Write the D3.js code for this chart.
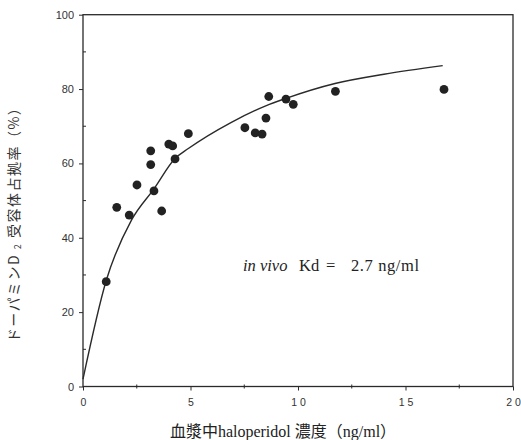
<!DOCTYPE html>
<html>
<head>
<meta charset="utf-8">
<script src="https://cdn.jsdelivr.net/npm/d3@7"></script>
<style>
  body { margin: 0; background: #fff; }
  svg { display: block; }
  text { white-space: pre; }
</style>
</head>
<body>
<div id="chart"></div>
<script>
// plasma haloperidol (ng/ml) vs D2 occupancy (%)
const pointsX = [1.08, 1.57, 2.15, 2.51, 3.15, 3.15, 3.30, 3.66, 3.99, 4.17, 4.28, 4.90,
                 7.53, 8.01, 8.33, 8.51, 8.64, 9.44, 9.78, 11.74, 16.79];
const pointsY = [28.2, 48.2, 46.1, 54.2, 63.4, 59.7, 52.6, 47.2, 65.2, 64.7, 61.2, 68.0,
                 69.6, 68.2, 67.9, 72.2, 78.0, 77.3, 75.9, 79.4, 79.9];

// fitted curve
const curveX = [0, 1.08, 2.26, 3.32, 4.28, 4.9, 6.88, 8.5, 9.44, 11.72, 14, 16.73];
const curveY = [2, 28.5, 44.8, 53.3, 61.3, 64, 71, 75.5, 77.5, 81.5, 84, 86.3];

const xTicks = [0, 5, 10, 15, 20];
const xTickLabels = ["0", "5", "1 0", "1 5", "2 0"];
const xMinor = [2.5, 7.5, 12.5, 17.5];
const yTicks = [0, 20, 40, 60, 80, 100];
const yMinor = [10, 30, 50, 70, 90];

const W = 521, H = 440;
const svg = d3.select("#chart").append("svg")
    .attr("width", W).attr("height", H);

const x = d3.scaleLinear().domain([0, 20]).range([83, 513]);
const y = d3.scaleLinear().domain([0, 100]).range([386.5, 14.7]);

const ink = "#2a2a2a";

// frame
svg.append("rect")
    .attr("x", x(0)).attr("y", y(100))
    .attr("width", x(20) - x(0)).attr("height", y(0) - y(100))
    .attr("fill", "none").attr("stroke", ink).attr("stroke-width", 1.3);

//////////////////// y axis ////////////////////
const yAxis = svg.append("g")
    .attr("transform", `translate(${x(0)},0)`)
    .call(d3.axisLeft(y).tickValues(yTicks).tickSize(4).tickPadding(5));
yAxis.select(".domain").remove();
yAxis.selectAll("line").attr("stroke", ink);
yAxis.selectAll("text")
    .attr("font-family", "Liberation Sans, Arial, sans-serif")
    .attr("font-size", 11).attr("fill", "#333");

svg.append("g").selectAll("line")
    .data(yMinor).enter().append("line")
    .attr("x1", x(0)).attr("x2", x(0) + 3)
    .attr("y1", d => y(d)).attr("y2", d => y(d))
    .attr("stroke", ink);

//////////////////// x axis ////////////////////
const xAxis = svg.append("g")
    .attr("transform", `translate(0,${y(0)})`)
    .call(d3.axisBottom(x).tickValues(xTicks).tickSize(4).tickPadding(8)
        .tickFormat((d, i) => xTickLabels[i]));
xAxis.select(".domain").remove();
xAxis.selectAll("line").attr("stroke", ink);
xAxis.selectAll("text")
    .attr("font-family", "Liberation Sans, Arial, sans-serif")
    .attr("font-size", 10.5).attr("fill", "#333");

svg.append("g").selectAll("line")
    .data(xMinor).enter().append("line")
    .attr("x1", d => x(d)).attr("x2", d => x(d))
    .attr("y1", y(0) - 2).attr("y2", y(0) + 2)
    .attr("stroke", ink);

//////////////////// curve ////////////////////
const curve = curveX.map((d, i) => [d, curveY[i]]);
svg.append("path")
    .datum(curve)
    .attr("d", d3.line().x(d => x(d[0])).y(d => y(d[1])).curve(d3.curveMonotoneX))
    .attr("fill", "none").attr("stroke", ink).attr("stroke-width", 1.4);

//////////////////// points ////////////////////
svg.append("g").selectAll("circle")
    .data(pointsX.map((d, i) => [d, pointsY[i]]))
    .enter().append("circle")
    .attr("cx", d => x(d[0])).attr("cy", d => y(d[1]))
    .attr("r", 4.4).attr("fill", "#222");

//////////////////// labels ////////////////////
const ann = svg.append("text")
    .attr("y", 271)
    .attr("font-family", "Liberation Serif, Times New Roman, serif")
    .attr("font-size", 16.5).attr("fill", "#222");
ann.append("tspan").attr("x", 243).attr("font-style", "italic").text("in vivo");
ann.append("tspan").attr("x", 299).text("Kd");
ann.append("tspan").attr("x", 326).text("=");
ann.append("tspan").attr("x", 351).attr("letter-spacing", 0.6).text("2.7 ng/ml");

svg.append("text")
    .attr("x", 283).attr("y", 437)
    .attr("text-anchor", "middle")
    .attr("font-family", "Liberation Serif, 'Noto Sans CJK JP', serif")
    .attr("font-size", 16).attr("fill", "#222")
    .text("血漿中haloperidol 濃度（ng/ml）");

const yl = svg.append("text")
    .attr("transform", "translate(19,221) rotate(-90)")
    .attr("text-anchor", "middle")
    .attr("font-family", "'Noto Sans CJK JP', sans-serif")
    .attr("font-size", 14).attr("letter-spacing", 1.5).attr("fill", "#333");
yl.append("tspan").text("ドーパミンD ");
yl.append("tspan").attr("font-size", 9).attr("dy", 2).text("2");
yl.append("tspan").attr("dy", -2).text(" 受容体占拠率（%）");
</script>
</body>
</html>
